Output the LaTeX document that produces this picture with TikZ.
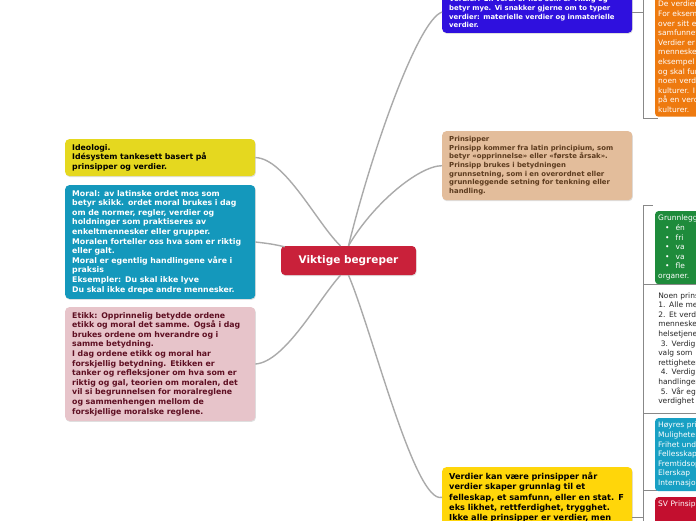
\documentclass[tikz,border=0pt]{standalone}
\usepackage{fontspec}
\setmainfont{DejaVu Sans}
\usetikzlibrary{calc,shadows}
\definecolor{KeyRed}{HTML}{C9213A}
\definecolor{IdeoYellow}{HTML}{E5D81F}
\definecolor{MoralBlue}{HTML}{1498BC}
\definecolor{EtikkPink}{HTML}{E7C4CA}
\definecolor{EtikkText}{HTML}{5E0F22}
\definecolor{VerdiBlue}{HTML}{2F10DE}
\definecolor{PrinsTan}{HTML}{E3BD9B}
\definecolor{PrinsText}{HTML}{5C3B1E}
\definecolor{PrinsYellow}{HTML}{FFD60A}
\definecolor{EksOrange}{HTML}{EE7A0F}
\definecolor{LovGreen}{HTML}{1E8B3B}
\definecolor{HoyreBlue}{HTML}{18A0C4}
\definecolor{SVRed}{HTML}{C30F2F}
\definecolor{LinkGray}{HTML}{AAAAAA}
\tikzset{
  topic/.style={rounded corners=4pt, anchor=north west, align=left, inner xsep=7pt, inner ysep=5pt, text width=176pt,
    font=\bfseries\fontsize{7.8}{9.6}\selectfont, drop shadow={opacity=0.25, shadow xshift=0.6pt, shadow yshift=-1pt}},
  smalltopic/.style={topic, font=\bfseries\fontsize{6.9}{8.7}\selectfont},
  subtopic/.style={rounded corners=3pt, anchor=north west, align=left, inner xsep=3pt, inner ysep=4pt, text width=120pt,
    text=white, font=\fontsize{7.5}{9.6}\selectfont},
  link/.style={draw=LinkGray, line width=1.4pt},
  bracket/.style={draw=LinkGray!80!black, line width=0.6pt}
}
\begin{document}
\begin{tikzpicture}[x=1pt, y=-1pt]
\useasboundingbox (0,0) rectangle (696,520);
\fill[white] (0,0) rectangle (696,520);
\clip (0,0) rectangle (696,520);

% left side
\node[topic, fill=IdeoYellow, text=black] (ideologi) at (65,139) {Ideologi.\\Idésystem tankesett basert på\\prinsipper og verdier.};
\node[topic, fill=MoralBlue, text=white] (moral) at (65,185) {Moral: av latinske ordet mos som\\betyr skikk. ordet moral brukes i dag\\om de normer, regler, verdier og\\holdninger som praktiseres av\\enkeltmennesker eller grupper.\\Moralen forteller oss hva som er riktig\\eller galt.\\Moral er egentlig handlingene våre i\\praksis\\Eksempler: Du skal ikke lyve\\Du skal ikke drepe andre mennesker.};
\node[topic, fill=EtikkPink, text=EtikkText] (etikk) at (65,307) {Etikk: Opprinnelig betydde ordene\\etikk og moral det samme. Også i dag\\brukes ordene om hverandre og i\\samme betydning.\\I dag ordene etikk og moral har\\forskjellig betydning. Etikken er\\tanker og refleksjoner om hva som er\\riktig og gal, teorien om moralen, det\\vil si begrunnelsen for moralreglene\\og sammenhengen mellom de\\forskjellige moralske reglene.};

% centre
\node[fill=KeyRed, text=white, rounded corners=4pt, minimum width=135pt, minimum height=29pt,
  font=\bfseries\fontsize{10.5}{12}\selectfont, drop shadow={opacity=0.25, shadow xshift=0.6pt, shadow yshift=-1pt}] (center) at (348.5,260.5) {Viktige begreper};

% right side
\node[smalltopic, fill=VerdiBlue, text=white, anchor=south west] (verdier) at (442,33) {Verdier: En verdi er noe som er viktig og\\betyr mye. Vi snakker gjerne om to typer\\verdier: materielle verdier og inmaterielle\\verdier.};
\node[smalltopic, fill=PrinsTan, text=PrinsText] (prinsipper) at (442,131) {Prinsipper\\Prinsipp kommer fra latin principium, som\\betyr «opprinnelse» eller «første årsak».\\Prinsipp brukes i betydningen\\grunnsetning, som i en overordnet eller\\grunnleggende setning for tenkning eller\\handling.};
\node[topic, fill=PrinsYellow, text=black, font=\bfseries\fontsize{8.2}{10.3}\selectfont] (verdiprins) at (442,467) {Verdier kan være prinsipper når\\verdier skaper grunnlag til et\\felleskap, et samfunn, eller en stat. F\\eks likhet, rettferdighet, trygghet.\\Ikke alle prinsipper er verdier, men};

% connectors from the centre
\draw[link] (center.north) .. controls (372,150) and (418,20) .. (verdier.west);
\draw[link] (center.north) .. controls (372,205) and (418,166) .. (prinsipper.west);
\draw[link] (center.south) .. controls (372,330) and (415,505) .. (verdiprins.west);
\draw[link] ($(center.north)+(-8,0)$) .. controls (318,225) and (285,158) .. (ideologi.east);
\draw[link] ($(center.north west)+(4,1)$) .. controls (272,244) .. (moral.east);
\draw[link] ($(center.south)+(-8,0)$) .. controls (318,300) and (285,362) .. (etikk.east);

% sub branches
\coordinate (brTop) at (643,-2);
\coordinate (brTopEnd) at (643,118);
\coordinate (brBot) at (643,205);
\coordinate (brBotEnd) at (643,522);
\coordinate (brJoin) at (643,517);
\draw[bracket] (verdier.east) -- (verdier.east -| brTop);
\draw[bracket] (brTop) -- (brTopEnd) -- ++(15,0);
\draw[bracket] (verdiprins.east |- brJoin) -- (brJoin);
\draw[bracket] (brBot) -- (brBotEnd);
\draw[bracket] (brBot) -- ++(10,0);
\draw[bracket] (643,490) -- ++(14,0);

\node[subtopic, fill=EksOrange] (verdieks) at (655,-3) {De verdier\\For eksempel\\over sitt eget\\samfunnet\\Verdier er\\mennesker\\eksempel\\og skal fungere\\noen verdier\\kulturer. I\\på en verdi\\kulturer.};
\node[subtopic, fill=LovGreen] (grunnlov) at (655,211) {Grunnleggende\\\hspace*{7pt}\textbullet\hspace{6pt}én\\\hspace*{7pt}\textbullet\hspace{6pt}fri\\\hspace*{7pt}\textbullet\hspace{6pt}va\\\hspace*{7pt}\textbullet\hspace{6pt}va\\\hspace*{7pt}\textbullet\hspace{6pt}fle\\organer.};
\node[subtopic, fill=white, text=black!85, draw=LinkGray!80!black, line width=0.6pt, rounded corners=0pt,
  inner xsep=15pt, inner ysep=8pt] (noenprins) at (643,284) {Noen prinsipper\\1. Alle mennesker\\2. Et verdig\\menneskene\\helsetjeneste\\\ 3. Verdig\\valg som\\rettigheter\\\ 4. Verdig\\handlinger\\\ 5. Vår egen\\verdighet};
\node[subtopic, fill=HoyreBlue] (hoyre) at (655,418) {Høyres prinsipper\\Muligheter\\Frihet under\\Fellesskap\\Fremtidsoptimisme\\Elerskap\\Internasjonalt};
\node[subtopic, fill=SVRed, minimum height=30pt, text depth=22pt] (sv) at (655,497) {SV Prinsipper};
\end{tikzpicture}
\end{document}
